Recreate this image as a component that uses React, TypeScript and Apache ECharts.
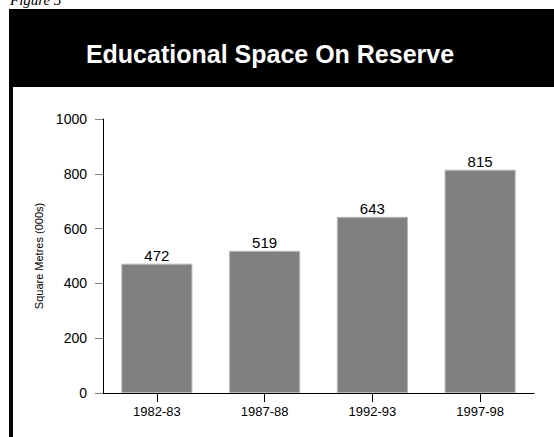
import React, { useEffect, useRef } from "react";
import * as echarts from "echarts";

const categories = ["1982-83", "1987-88", "1992-93", "1997-98"];
const values = [472, 519, 643, 815];
const yTicks = [0, 200, 400, 600, 800, 1000];
const titleText = "Educational Space On Reserve";
const yAxisName = "Square Metres (000s)";
const figureLabel = "Figure 3";

export default function App() {
  const ref = useRef<HTMLDivElement>(null);
  useEffect(() => {
    if (!ref.current) return;
    const chart = echarts.init(ref.current, undefined, { renderer: "svg" });
    chart.setOption({
      animation: false,
      backgroundColor: "#ffffff",
      textStyle: { fontFamily: "Liberation Sans, Arial, sans-serif" },
      graphic: [
        { type: "rect", shape: { x: 9, y: 9, width: 545, height: 78 }, style: { fill: "#000" } },
        { type: "rect", shape: { x: 9, y: 87, width: 4, height: 350 }, style: { fill: "#000" } },
        {
          type: "text",
          x: 270,
          y: 54,
          style: {
            text: titleText,
            fill: "#fff",
            font: "bold 25px 'Liberation Sans', Arial, sans-serif",
            textAlign: "center",
            textVerticalAlign: "middle",
          },
        },
        {
          type: "text",
          x: 10,
          y: -8,
          style: {
            text: figureLabel,
            fill: "#000",
            font: "italic 15px 'Liberation Serif', serif",
            textAlign: "left",
            textVerticalAlign: "top",
          },
        },
      ],
      grid: { left: 103, right: 20, top: 119, bottom: 44 },
      xAxis: {
        type: "category",
        data: categories,
        axisLine: { show: true, lineStyle: { color: "#000", width: 1 } },
        axisTick: { show: true, alignWithLabel: true, length: 9, lineStyle: { color: "#000" } },
        axisLabel: { color: "#000", fontSize: 13, margin: 12 },
      },
      yAxis: {
        type: "value",
        min: yTicks[0],
        max: yTicks[yTicks.length - 1],
        interval: 200,
        name: yAxisName,
        nameLocation: "middle",
        nameRotate: 90,
        nameGap: 45,
        nameTextStyle: { color: "#000", fontSize: 11 },
        splitLine: { show: false },
        axisLine: { show: true, lineStyle: { color: "#000", width: 1 } },
        axisTick: { show: true, length: 8, lineStyle: { color: "#808080" } },
        axisLabel: { color: "#000", fontSize: 14, margin: 16, formatter: (v: number) => String(v) },
      },
      series: [
        {
          type: "bar",
          data: values,
          barCategoryGap: "34%",
          itemStyle: { color: "#808080", borderColor: "#b8b8b8", borderWidth: 1 },
          label: { show: true, position: "top", color: "#000", fontSize: 15, distance: 1 },
        },
      ],
    });
    return () => chart.dispose();
  }, []);
  return (
    <div
      ref={ref}
      style={{ position: "absolute", left: 0, top: 0, width: 554, height: 437 }}
    />
  );
}
